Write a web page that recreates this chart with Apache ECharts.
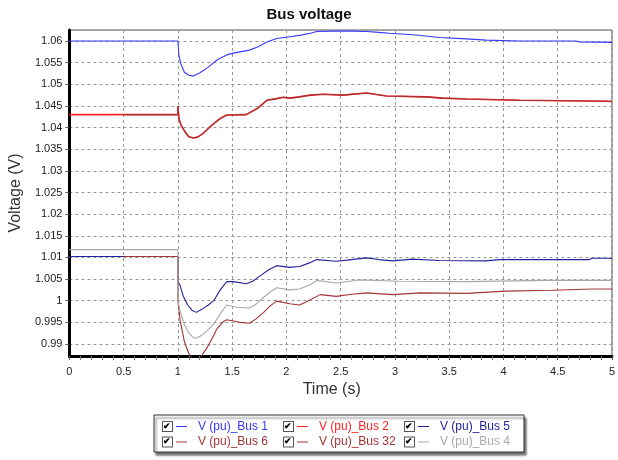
<!DOCTYPE html>
<html>
<head>
<meta charset="utf-8">
<script src="https://cdn.jsdelivr.net/npm/echarts@6/dist/echarts.min.js"></script>
<style>
  html, body { margin: 0; padding: 0; background: #fff; }
  #main { width: 618px; height: 460px; }
</style>
</head>
<body>
<div id="main"></div>
<script>
// [time (s), voltage (pu)]
const bus1 = [
  [0, 1.06], [1, 1.06], [1.01, 1.0565], [1.03, 1.0545], [1.06, 1.0528], [1.1, 1.0521],
  [1.14, 1.0519], [1.2, 1.0526], [1.27, 1.0538], [1.37, 1.0558], [1.45, 1.0568],
  [1.51, 1.0572], [1.66, 1.0579], [1.74, 1.0587], [1.82, 1.0598], [1.91, 1.0606],
  [2.03, 1.061], [2.12, 1.0613], [2.22, 1.0618], [2.28, 1.0622], [2.43, 1.0623],
  [2.6, 1.0623], [2.74, 1.0622], [2.85, 1.062], [2.95, 1.0618], [3.2, 1.0614],
  [3.41, 1.0608], [3.66, 1.0605], [3.84, 1.0602], [4.15, 1.06], [4.67, 1.06],
  [4.7, 1.0598], [5, 1.0597]
];
// Bus 2 and Bus 6 lie on the same curve (Bus 6 drawn from 0.5 s)
const busUpper = [
  [0, 1.043], [0.5, 1.043], [1, 1.043], [1, 1.045], [1.01, 1.042], [1.03, 1.0405],
  [1.066, 1.039], [1.1, 1.0379], [1.14, 1.0376], [1.18, 1.0378], [1.23, 1.0386],
  [1.28, 1.0398], [1.33, 1.0409], [1.39, 1.0421], [1.45, 1.0429], [1.63, 1.043],
  [1.73, 1.0444], [1.82, 1.0463], [1.91, 1.0467], [1.97, 1.047], [2.03, 1.0468],
  [2.12, 1.0471], [2.22, 1.0475], [2.34, 1.0477], [2.52, 1.0475], [2.74, 1.048],
  [2.92, 1.0473], [3.29, 1.0471], [3.44, 1.0468], [3.66, 1.0466], [4.15, 1.0463],
  [4.97, 1.0461], [5, 1.046]
];
const bus5 = [
  [0, 1.0102], [1, 1.0102], [1, 1.0045], [1.02, 1.0035], [1.05, 1.001], [1.09, 0.999],
  [1.13, 0.9978], [1.17, 0.9973], [1.22, 0.998], [1.28, 0.999], [1.33, 1.0], [1.39, 1.0025],
  [1.45, 1.0044], [1.51, 1.0044], [1.63, 1.0039], [1.69, 1.0045], [1.76, 1.0058],
  [1.84, 1.0072], [1.91, 1.0081], [2.03, 1.0077], [2.12, 1.0079], [2.22, 1.0088],
  [2.28, 1.0095], [2.46, 1.0091], [2.6, 1.0095], [2.74, 1.0099], [2.85, 1.0095],
  [2.98, 1.0092], [3.16, 1.0096], [3.41, 1.0093], [3.84, 1.0092], [3.96, 1.0095],
  [4.79, 1.0095], [4.82, 1.0098], [5, 1.0098]
];
const bus32 = [
  [0.5, 1.0102], [1, 1.0102], [1, 1.0], [1.02, 0.9955], [1.06, 0.9905], [1.1, 0.9878],
  [1.14, 0.9866], [1.17, 0.9864], [1.21, 0.987], [1.27, 0.9892], [1.32, 0.9915],
  [1.36, 0.9935], [1.41, 0.995], [1.45, 0.9956], [1.57, 0.995], [1.66, 0.9948],
  [1.72, 0.9958], [1.79, 0.9973], [1.85, 0.9988], [1.91, 0.9999], [2.03, 0.9993],
  [2.12, 0.999], [2.18, 0.9997], [2.31, 1.0014], [2.46, 1.001], [2.6, 1.0015],
  [2.74, 1.0018], [2.98, 1.0014], [3.23, 1.0018], [3.66, 1.0017], [4.02, 1.0022],
  [4.45, 1.0024], [4.82, 1.0027], [5, 1.0027]
];
const bus4 = [
  [0, 1.0118], [1, 1.0118], [1, 1.0], [1.02, 0.9975], [1.06, 0.9945], [1.1, 0.9925],
  [1.14, 0.9915], [1.17, 0.9913], [1.22, 0.992], [1.28, 0.9933], [1.33, 0.9946],
  [1.39, 0.997], [1.45, 0.999], [1.54, 0.9985], [1.66, 0.9983], [1.72, 0.9992],
  [1.79, 1.0008], [1.85, 1.002], [1.91, 1.003], [2.03, 1.0025], [2.12, 1.0027],
  [2.22, 1.0037], [2.28, 1.0047], [2.46, 1.0041], [2.67, 1.0048], [3.04, 1.0045],
  [3.66, 1.0044], [4.39, 1.0047], [5, 1.0047]
];

const seriesNames = ["V (pu)_Bus 1", "V (pu)_Bus 2", "V (pu)_Bus 5", "V (pu)_Bus 6", "V (pu)_Bus 32", "V (pu)_Bus 4"];
const seriesColors = ["#3838ff", "#ff2424", "#23239c", "#a33434", "#a33434", "#a8a8a8"];
const seriesData = [bus1, busUpper, bus5, busUpper.filter((p) => p[0] >= 0.5), bus32, bus4];
const lineWidths = [1.1, 1.6, 1.1, 1.1, 1.1, 1.1];

const FONT = "Liberation Sans";

// legend item: checkbox, gap, coloured line, gap, name
const rich = {
  cb: {
    width: 9, height: 9, lineHeight: 11, borderColor: "#555", borderWidth: 1,
    backgroundColor: "#fff", color: "#000", fontSize: 9, fontWeight: "bold"
  },
  s1: { width: 4 },
  s2: { width: 11 },
  nm: { width: 80, fontSize: 12, fontFamily: FONT, lineHeight: 17 }
};
seriesColors.forEach((c, i) => {
  rich["l" + i] = { width: 11, height: 1, backgroundColor: c, fontSize: 1, lineHeight: 1 };
});

const chart = echarts.init(document.getElementById("main"));

chart.setOption({
  backgroundColor: "#fff",
  animation: false,
  title: {
    text: "Bus voltage",
    left: "center",
    top: 2,
    textStyle: { fontSize: 15, fontWeight: "bold", color: "#111", fontFamily: FONT }
  },
  grid: {
    left: 69, right: 5, top: 30, bottom: 104,
    show: true, borderColor: "#555", borderWidth: 1, backgroundColor: "#fff"
  },
  xAxis: {
    type: "value",
    min: 0, max: 5, interval: 0.5,
    name: "Time (s)",
    nameLocation: "middle",
    nameGap: 26,
    nameTextStyle: { fontSize: 16, color: "#333", fontFamily: FONT, padding: [0, 18, 0, 0] },
    axisLine: { onZero: false, lineStyle: { color: "#000", width: 3 } },
    axisTick: { show: true, length: 4, lineStyle: { color: "#555" } },
    minorTick: { show: true, splitNumber: 5, length: 4, lineStyle: { color: "#777" } },
    axisLabel: { fontSize: 11, color: "#222", fontFamily: FONT, margin: 10 },
    splitLine: { show: true, lineStyle: { color: "#999", type: [3, 3], width: 1 } }
  },
  yAxis: {
    type: "value",
    min: 0.98722, max: 1.06255,
    splitNumber: 15, minInterval: 0.005, maxInterval: 0.005,
    name: "Voltage (V)",
    nameLocation: "middle",
    nameGap: 37,
    nameTextStyle: { fontSize: 16, color: "#333", fontFamily: FONT },
    axisLine: { show: true, lineStyle: { color: "#000", width: 3 } },
    axisTick: { show: true, length: 4, lineStyle: { color: "#555" } },
    axisLabel: { fontSize: 11, color: "#222", fontFamily: FONT, margin: 7, showMinLabel: false, showMaxLabel: false },
    splitLine: { show: true, lineStyle: { color: "#999", type: [3, 3], width: 1 } }
  },
  legend: {
    left: 154, top: 415, width: 368,
    orient: "horizontal",
    icon: "none", itemWidth: 0, itemHeight: 17, itemGap: 1,
    padding: [3, 4, 4, 4],
    selectedMode: false,
    backgroundColor: "#fff", borderColor: "#333", borderWidth: 1,
    shadowColor: "rgba(0,0,0,0.55)", shadowBlur: 2, shadowOffsetX: 2, shadowOffsetY: 3,
    textStyle: { fontSize: 12, fontFamily: FONT, rich: rich },
    data: seriesNames.map((n, i) => ({ name: n, textStyle: { color: seriesColors[i] } })),
    formatter: function (name) {
      const i = seriesNames.indexOf(name);
      return "{cb|✔}{s1| }{l" + i + "| }{s2| }{nm|" + name + "}";
    }
  },
  series: seriesNames.map((n, i) => ({
    name: n,
    type: "line",
    data: seriesData[i],
    showSymbol: false,
    symbol: "none",
    color: seriesColors[i],
    lineStyle: { color: seriesColors[i], width: lineWidths[i] }
  }))
});
</script>
</body>
</html>
